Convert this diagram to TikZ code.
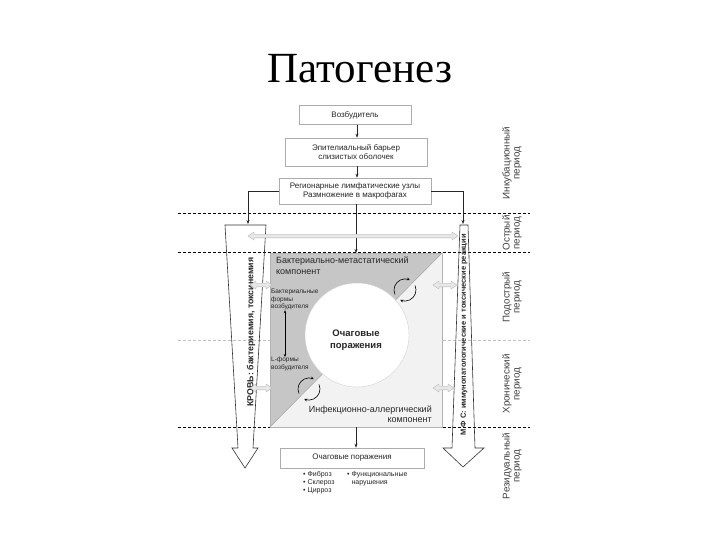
\documentclass[tikz,border=0pt]{standalone}
\usepackage{fontspec}
\setmainfont{Liberation Serif}
\newfontfamily\dfont{Liberation Sans}
\usetikzlibrary{arrows.meta}
\newcommand\grayarrow[3]{%
  \draw[garrow] (#1,#3) -- (#1+6,#3-4) -- (#1+6,#3-1.8) -- (#2-6,#3-1.8) -- (#2-6,#3-4) -- (#2,#3) -- (#2-6,#3+4) -- (#2-6,#3+1.8) -- (#1+6,#3+1.8) -- (#1+6,#3+4) -- cycle;}
\begin{document}
\begin{tikzpicture}[x=1pt,y=-1pt,
 box/.style={draw=gray!65, line width=0.6pt, fill=white, inner sep=0pt, align=center, font=\dfont\fontsize{8}{9.5}\selectfont, text=black!85},
 conn/.style={-{Stealth[length=4pt,width=3pt]}, line width=0.5pt, draw=black!85},
 sepline/.style={dash pattern=on 3pt off 2pt, line width=0.7pt},
 bigarrow/.style={draw=black!80, line width=0.6pt},
 garrow/.style={draw=gray!60, fill=gray!18, line width=0.4pt},
 period/.style={rotate=90, align=center, font=\dfont\fontsize{9.8}{10.2}\selectfont, text=black!75},
 lbl/.style={inner sep=0pt, font=\dfont\fontsize{9}{10.5}\selectfont, text=black!85},
 small/.style={inner sep=0pt, align=left, font=\dfont\fontsize{6.5}{7.5}\selectfont, text=black!85},
 cyc/.style={line width=0.6pt, -{Stealth[length=3pt,width=3pt]}},
]
\useasboundingbox (0,0) rectangle (720,540);
\fill[white] (0,0) rectangle (720,540);

\node[anchor=base, font=\fontsize{43}{46}\selectfont] (title) at (360,83) {Патогенез};

% separators
\draw[sepline] (178,213) -- (530,213);
\draw[sepline] (178,252) -- (530,252);
\draw[sepline, draw=gray!50] (178,340) -- (530,340);
\draw[sepline] (178,427) -- (530,427);

% top boxes
\node[box, minimum width=112, minimum height=19] (b1) at (355,115) {Возбудитель};
\node[box, minimum width=142, minimum height=28] (b2) at (356,152) {Эпителиальный барьер\\слизистых оболочек};
\node[box, minimum width=152, minimum height=26] (b3) at (355,191) {Регионарные лимфатические узлы\\Размножение в макрофагах};
\draw[conn] (b1.south -| 357,0) -- (b2.north -| 357,0);
\draw[conn] (b2.south -| 357,0) -- (b3.north -| 357,0);

% big arrows
\draw[bigarrow] (225,225) -- (266,225) -- (253,448) -- (258,448) -- (245,468) -- (232,448) -- (238,448) -- cycle;
\draw[bigarrow] (460,225) -- (468,225) -- (475,448) -- (484,448) -- (463,467) -- (443,448) -- (452,448) -- cycle;
\coordinate (latop) at (248,224);
\coordinate (ratop) at (463,224);
\draw[conn] (b3.west) -| (latop);
\draw[conn] (b3.east) -| (ratop);
\node[rotate=90, inner sep=0pt, font=\dfont\bfseries\fontsize{8.8}{9}\selectfont, text=black!85] (blood) at (251,332) {КРОВЬ: бактериемия, токсинемия};
\node[rotate=90, inner sep=0pt, font=\dfont\bfseries\fontsize{7.5}{9}\selectfont, text=black!85] (mfs) at (464,335) {М Ф С: иммунопатологические и токсические реакции};

% central square
\node[minimum width=172, minimum height=174, inner sep=0pt, outer sep=0pt] (sq) at (356,340) {};
\fill[gray!10] (sq.north west) rectangle (sq.south east);
\fill[gray!45] (sq.north west) -- (sq.north east) -- (sq.south west) -- cycle;
\draw[gray!70, line width=0.5pt] (sq.south west) -- (sq.north east);
\draw[gray!60, line width=0.6pt] (sq.north west) rectangle (sq.south east);
\node[circle, fill=white, draw=gray!35, line width=0.4pt, minimum size=104, inner sep=0pt] (focus) at (357,335) {};
\node[align=center, inner sep=0pt, font=\dfont\bfseries\fontsize{9.5}{12}\selectfont, text=black!85] (focustext) at (356,340) {Очаговые\\поражения};
\draw[conn] (b3.south -| sq.north) -- (sq.north);

\node[lbl, anchor=north west, align=left] (bmk) at (276,257) {Бактериально-метастатический\\компонент};
\node[small, anchor=north west] (bf) at (271,289) {Бактериальные\\формы\\возбудителя};
\node[small, anchor=north west] (lf) at (271,357) {L-формы\\возбудителя};
\draw[{Stealth[length=3pt,width=2.5pt]}-{Stealth[length=3pt,width=2.5pt]}, line width=0.5pt] ([xshift=14pt]bf.south west) -- ([xshift=14pt]lf.north west);
\node[lbl, anchor=south east, align=right] (iak) at (432,423) {Инфекционно-аллергический\\компонент};

% rotation signs on the diagonal
\foreach \cx/\cy in {405/290, 309/389} {
  \draw[cyc] (\cx,\cy) ++(155:11) arc[start angle=155, end angle=295, radius=11];
  \draw[cyc] (\cx,\cy) ++(335:11) arc[start angle=335, end angle=475, radius=11];
}

% gray exchange arrows
\grayarrow{248}{458}{236}
\grayarrow{250}{272}{285}
\grayarrow{250}{272}{388}
\grayarrow{433}{457}{285}
\grayarrow{433}{454}{388}

% bottom box
\node[box, minimum width=144, minimum height=20] (b4) at (352,458) {Очаговые поражения};
\draw[conn] (sq.south) -- (sq.south |- b4.north);
\node[small, anchor=north west, font=\dfont\fontsize{7}{8}\selectfont] (res1) at (303,471) {• Фиброз\\• Склероз\\• Цирроз};
\node[small, anchor=north west, font=\dfont\fontsize{7}{8}\selectfont] (res2) at (347,471) {• Функциональные\\\hphantom{• }нарушения};

% periods
\node[period] (p1) at (512,163) {Инкубационный\\период};
\node[period] (p2) at (512,233) {Острый\\период};
\node[period] (p3) at (512,297) {Подострый\\период};
\node[period] (p4) at (512,384) {Хронический\\период};
\node[period] (p5) at (512,466) {Резидуальный\\период};
\end{tikzpicture}
\end{document}
